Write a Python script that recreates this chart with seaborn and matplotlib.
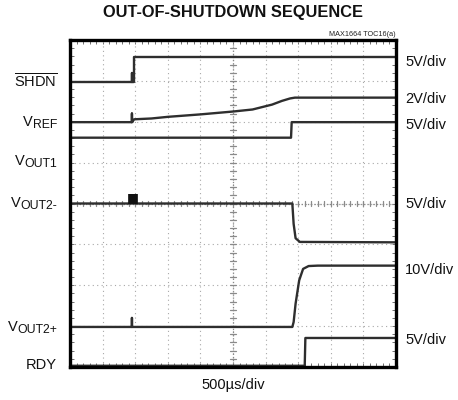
import numpy as np
import pandas as pd
import matplotlib
matplotlib.use("Agg")
import matplotlib.pyplot as plt
import seaborn as sns

# ---- data (time in divisions, level in divisions from bottom) ----
shdn_t = [0.0, 1.90, 1.90, 1.90, 1.97, 1.97, 10.0]
shdn_v = [6.98, 6.98, 7.20, 6.98, 6.98, 7.58, 7.58]

vref_t = [0.0, 1.90, 1.90, 1.90, 1.97, 2.5, 3.0, 4.0, 5.0, 5.6, 6.2, 6.5, 6.75, 6.9, 10.0]
vref_v = [5.99, 5.99, 6.20, 5.99, 6.06, 6.08, 6.12, 6.18, 6.25, 6.30, 6.42, 6.51, 6.57, 6.59, 6.59]

vout1_t = [0.0, 6.78, 6.80, 10.0]
vout1_v = [5.61, 5.61, 5.99, 5.99]

vout2m_t = [0.0, 6.82, 6.86, 6.92, 7.05, 10.0]
vout2m_v = [4.00, 4.00, 3.50, 3.15, 3.06, 3.05]

vout2p_t = [0.0, 1.90, 1.90, 1.90, 6.82, 6.86, 6.92, 7.03, 7.15, 7.32, 7.6, 10.0]
vout2p_v = [0.98, 0.98, 1.20, 0.98, 0.98, 1.10, 1.55, 2.12, 2.40, 2.47, 2.48, 2.48]

rdy_t = [0.0, 7.20, 7.22, 10.0]
rdy_v = [0.03, 0.03, 0.71, 0.71]

marker_t = [1.93, 1.93]
marker_v = [4.00, 4.24]

# label: (main text, subscript text, y level)
left_main = ["", "V", "V", "V", "V", "RDY"]
left_sub = ["", "REF", "OUT1", "OUT2-", "OUT2+", ""]
left_label_y = [6.98, 6.0, 5.05, 4.02, 0.98, 0.05]
shdn_label = r"$\overline{\mathrm{SHDN}}$"
right_labels = ["5V/div", "2V/div", "5V/div", "5V/div", "10V/div", "5V/div"]
right_label_y = [7.47, 6.55, 5.93, 3.98, 2.37, 0.67]

title = "OUT-OF-SHUTDOWN SEQUENCE"
note = "MAX1664 TOC16(a)"
xlabel = "500\u00b5s/div"

# ---- style ----
sns.set_theme(style="white")
plt.rcParams["font.family"] = ["Liberation Sans", "DejaVu Sans"]
plt.rcParams["mathtext.fontset"] = "custom"
plt.rcParams["mathtext.rm"] = "Liberation Sans"
plt.rcParams["mathtext.it"] = "Liberation Sans"
plt.rcParams["mathtext.bf"] = "Liberation Sans:bold"

W, H = 458, 400
fig = plt.figure(figsize=(W / 100, H / 100), dpi=100)
ax = fig.add_axes([70 / W, 33 / H, 326 / W, 327 / H])
ax.set_xlim(0, 10)
ax.set_ylim(0, 8)

# grid
grid_c = "#a8a8a8"
for gx in range(1, 10):
    ax.axvline(gx, color=grid_c, lw=0.8, ls=(0, (1, 3)), zorder=1)
for gy in range(1, 8):
    ax.axhline(gy, color=grid_c, lw=0.8, ls=(0, (1, 3)), zorder=1)
# center cross with minor ticks
ax.axvline(5, color="#8a8a8a", lw=0.9, ls=(0, (1, 1.5)), zorder=1)
ax.axhline(4, color="#8a8a8a", lw=0.9, ls=(0, (1, 1.5)), zorder=1)
for k in np.arange(0.2, 10, 0.2):
    ax.plot([k, k], [3.94, 4.06], color="#8a8a8a", lw=0.9, zorder=1)
for k in np.arange(0.2, 8, 0.2):
    ax.plot([4.92, 5.08], [k, k], color="#8a8a8a", lw=0.9, zorder=1)

ax.set_xticks(np.arange(0, 10.01, 0.2))
ax.set_yticks(np.arange(0, 8.01, 0.2))
ax.tick_params(direction="in", length=3, width=0.7, color="#707070",
               labelbottom=False, labelleft=False, top=True, right=True,
               bottom=True, left=True)
for s in ax.spines.values():
    s.set_color("black")
    s.set_linewidth(2.4)
    s.set_zorder(5)

# traces
tc = "#2e2e2e"
for t, v in [(shdn_t, shdn_v), (vref_t, vref_v), (vout1_t, vout1_v),
             (vout2m_t, vout2m_v), (vout2p_t, vout2p_v), (rdy_t, rdy_v)]:
    sns.lineplot(x=t, y=v, ax=ax, sort=False, estimator=None, color=tc,
                 lw=1.7, zorder=3)
sns.lineplot(x=marker_t, y=marker_v, ax=ax, sort=False, estimator=None,
             color="#111111", lw=7, solid_capstyle="butt", zorder=3)

# left labels
txt_c = "#111111"
ax.annotate(shdn_label, xy=(0, left_label_y[0]), xycoords="data",
            xytext=(-13, 0), textcoords="offset pixels", ha="right",
            va="center", fontsize=10.5, color=txt_c, annotation_clip=False)
for main, sub, y in zip(left_main[1:], left_sub[1:], left_label_y[1:]):
    if sub:
        s_art = ax.annotate(sub, xy=(0, y), xycoords="data", xytext=(-13, -3),
                            textcoords="offset pixels", ha="right", va="center",
                            fontsize=8.8, color=txt_c, annotation_clip=False)
        ax.annotate(main, xy=(0, 0.5), xycoords=s_art, xytext=(0.5, 3),
                    textcoords="offset pixels", ha="right", va="center",
                    fontsize=10.5, color=txt_c, annotation_clip=False)
    else:
        ax.annotate(main, xy=(0, y), xycoords="data", xytext=(-13, 0),
                    textcoords="offset pixels", ha="right", va="center",
                    fontsize=10.5, color=txt_c, annotation_clip=False)

for lab, y in zip(right_labels, right_label_y):
    ax.annotate(lab, xy=(10, y), xycoords="data", xytext=(9, 0),
                textcoords="offset pixels", ha="left", va="center",
                fontsize=10.5, color=txt_c, annotation_clip=False)

fig.text(233 / W, 1 - 13 / H, title, ha="center", va="center",
         fontsize=11.8, fontweight="bold", color=txt_c)
fig.text(396 / W, 1 - 34 / H, note, ha="right", va="center",
         fontsize=5.2, color="#222222")
fig.text(233 / W, 1 - 385 / H, xlabel, ha="center", va="center",
         fontsize=10.5, color=txt_c)

ax.set_xlabel("")
ax.set_ylabel("")
fig.savefig("out.png", dpi=100)
